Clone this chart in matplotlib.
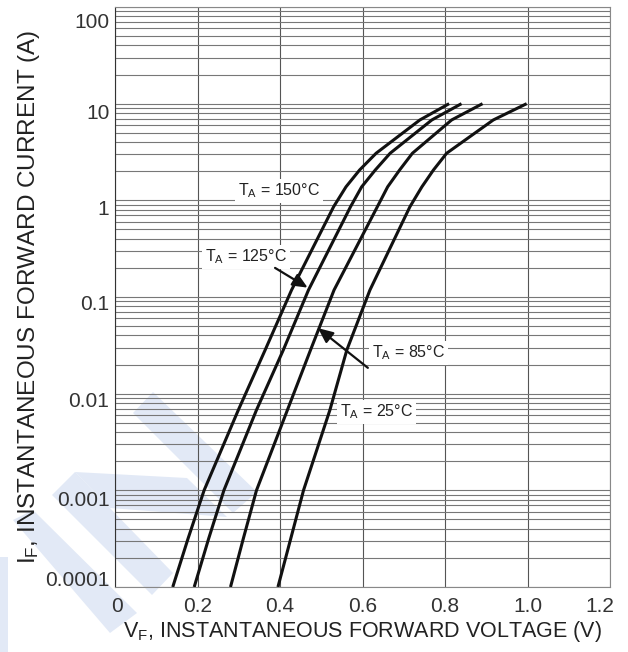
import matplotlib
matplotlib.use("Agg")
import matplotlib.pyplot as plt
from matplotlib.patches import Polygon
from matplotlib.transforms import ScaledTranslation
from matplotlib.ticker import FixedLocator, LogLocator, NullFormatter

plt.rcParams['font.family'] = ['Liberation Sans', 'DejaVu Sans']
plt.rcParams['mathtext.fontset'] = 'custom'
plt.rcParams['mathtext.rm'] = 'Liberation Sans'
plt.rcParams['mathtext.it'] = 'Liberation Sans'

# forward current levels (A), shared by all curves
current = [1e-4, 3.16e-4, 1e-3, 6.78e-3, 0.0283, 0.118, 0.859, 1.38, 2.06, 3.07, 6.78, 10.0]
# forward voltage (V) of each curve at those current levels
v_150 = [0.140, 0.177, 0.216, 0.299, 0.364, 0.428, 0.530, 0.560, 0.593, 0.633, 0.739, 0.810]
v_125 = [0.192, 0.227, 0.264, 0.343, 0.408, 0.469, 0.571, 0.598, 0.631, 0.667, 0.768, 0.840]
v_85 = [0.280, 0.311, 0.343, 0.418, 0.474, 0.531, 0.636, 0.661, 0.690, 0.721, 0.816, 0.891]
v_25 = [0.395, 0.426, 0.457, 0.521, 0.562, 0.618, 0.715, 0.744, 0.772, 0.804, 0.917, 0.998]

x_ticks = [0, 0.2, 0.4, 0.6, 0.8, 1.0, 1.2]
x_labels = ['0', '0.2', '0.4', '0.6', '0.8', '1.0', '1.2']
y_ticks = [1e-4, 1e-3, 1e-2, 0.1, 1, 10, 100]
y_labels = ['0.0001', '0.001', '0.01', '0.1', '1', '10', '100']

W, H = 628, 652
fig = plt.figure(figsize=(W / 100, H / 100), dpi=100)
ax = fig.add_axes([115 / W, 1 - 587 / H, 495 / W, 580 / H])

ax.set_xlim(0, 1.2)
ax.set_yscale('log')
ax.set_ylim(1e-4, 100)

for v in (v_150, v_125, v_85, v_25):
    ax.plot(v, current, color='#111111', lw=2.2, zorder=3,
            solid_joinstyle='round', solid_capstyle='butt')

# grid
ax.xaxis.set_major_locator(FixedLocator(x_ticks))
ax.set_xticklabels(x_labels)
ax.yaxis.set_major_locator(FixedLocator(y_ticks))
ax.yaxis.set_minor_locator(LogLocator(base=10, subs=range(2, 10), numticks=20))
ax.yaxis.set_minor_formatter(NullFormatter())
ax.set_yticklabels(y_labels)
ax.grid(True, which='major', axis='x', color='#555555', lw=0.8)
ax.grid(True, which='both', axis='y', color='#777777', lw=0.8)
ax.tick_params(which='both', length=0)
ax.tick_params(axis='x', pad=7, labelsize=15, labelcolor='#333333')
ax.tick_params(axis='y', pad=4, labelsize=15, labelcolor='#333333')
for s in ax.spines.values():
    s.set_color('#888888')
    s.set_linewidth(0.8)
ax.spines['left'].set_color('#333333')

# the scanned labels sit a little off their grid lines
y_shift = [9, -8, -6, -6, -7, -8, -13]
for lab, d in zip(ax.get_yticklabels(), y_shift):
    lab.set_transform(lab.get_transform() + ScaledTranslation(0, d / 100, fig.dpi_scale_trans))
x_shift = [2, 0, 0, 0, 0, 0, -10]
for lab, d in zip(ax.get_xticklabels(), x_shift):
    lab.set_transform(lab.get_transform() + ScaledTranslation(d / 100, 0, fig.dpi_scale_trans))

ax.set_xlabel(r'V$_\mathregular{F}$, INSTANTANEOUS FORWARD VOLTAGE (V)', fontsize=15.5,
              color='#222222', labelpad=2)
ax.set_ylabel(r'I$_\mathregular{F}$, INSTANTANEOUS FORWARD CURRENT (A)', fontsize=17.5,
              color='#222222', labelpad=2)

# curve labels
box = dict(facecolor='white', edgecolor='none', pad=2)
lbl = dict(fontsize=11.5, color='#222222', va='center', ha='left', bbox=box, zorder=4)
ax.text(0.298, 1.25, r'T$_\mathregular{A}$ = 150°C', **lbl)
ax.text(0.218, 0.26, r'T$_\mathregular{A}$ = 125°C', **lbl)
ax.text(0.623, 0.0264, r'T$_\mathregular{A}$ = 85°C', **lbl)
ax.text(0.545, 0.0065, r'T$_\mathregular{A}$ = 25°C', **lbl)
arrow = dict(arrowstyle='-|>,head_length=0.9,head_width=0.4', color='#111111', lw=1.6,
             shrinkA=0, shrinkB=0)
ax.annotate('', xy=(0.467, 0.125), xytext=(0.388, 0.20), arrowprops=arrow, zorder=4)
ax.annotate('', xy=(0.492, 0.0477), xytext=(0.613, 0.0185), arrowprops=arrow, zorder=4)

# faint watermark stripes
def fpoly(pts):
    return [(x / W, 1 - y / H) for x, y in pts]

marks = [
    [(133, 413), (153, 392), (257, 492), (233, 513)],
    [(52, 495), (75, 472), (173, 573), (152, 595)],
    [(75, 472), (187, 478), (227, 517), (110, 508)],
    [(13, 520), (33, 510), (137, 613), (110, 633)],
    [(0, 557), (8, 557), (8, 652), (0, 652)],
]
for m in marks:
    ax.add_patch(Polygon(fpoly(m), closed=True, transform=fig.transFigure,
                         facecolor='#dbe4f4', edgecolor='none', alpha=0.8,
                         clip_on=False, zorder=0.9))

fig.savefig('out.png', dpi=100)
